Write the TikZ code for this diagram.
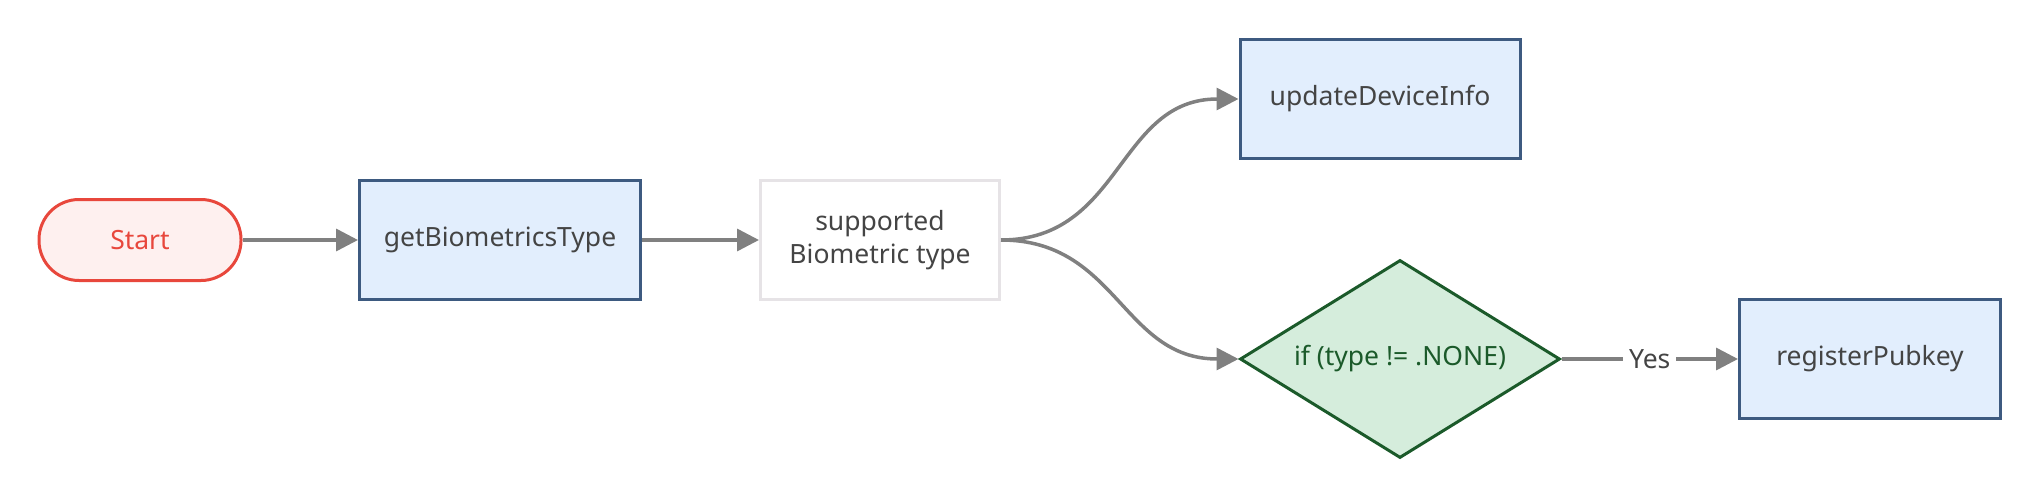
\documentclass[tikz,border=0pt]{standalone}
\usepackage{fontspec}
\setmainfont{Noto Sans}
\usetikzlibrary{arrows.meta,shapes.geometric}
\definecolor{arrgray}{HTML}{808080}
\definecolor{bluefill}{HTML}{E2EEFD}
\definecolor{bluedraw}{HTML}{3D5A80}
\definecolor{redfill}{HTML}{FEF0EF}
\definecolor{reddraw}{HTML}{E8473C}
\definecolor{greenfill}{HTML}{D5EDDC}
\definecolor{greendraw}{HTML}{1B5A2A}
\definecolor{graydraw}{HTML}{E6E3E6}
\definecolor{txt}{HTML}{444444}
\begin{document}
\begin{tikzpicture}[x=1pt,y=-1pt,
  every node/.style={font=\fontsize{26.5}{33}\selectfont, text=txt, align=center, inner sep=0pt},
  startbox/.style={draw=reddraw, fill=redfill, line width=3pt, rounded corners=40pt, minimum width=202pt, minimum height=81pt, text=reddraw},
  procbox/.style={draw=bluedraw, fill=bluefill, line width=3pt, minimum height=119pt},
  plainbox/.style={draw=graydraw, fill=white, line width=3pt, minimum width=239pt, minimum height=119pt},
  decbox/.style={diamond, draw=greendraw, fill=greenfill, line width=3pt, minimum width=320pt, minimum height=198pt, aspect=1.62, text=greendraw},
  arr/.style={draw=arrgray, line width=3.5pt, -{Triangle[length=22pt,width=22pt]}}
]
\useasboundingbox (0,0) rectangle (2040,500);
\node[startbox] (start) at (140,240) {Start};
\node[procbox, minimum width=281pt] (getb) at (500,240) {getBiometricsType};
\node[plainbox] (supp) at (880,240) {supported\\Biometric type};
\node[procbox, minimum width=280pt] (upd) at (1380,99) {updateDeviceInfo};
\node[decbox] (dia) at (1400,359) {if (type != .NONE)};
\node[procbox, minimum width=261pt] (reg) at (1870,359) {registerPubkey};
\draw[arr] (start) -- (getb);
\draw[arr] (getb) -- (supp);
\draw[arr] (supp.east) to[out=0,in=180,looseness=1.12] (upd.west);
\draw[arr] (supp.east) to[out=0,in=180,looseness=1.12] (dia.west);
\draw[arr] (dia.east) -- node[fill=white, inner xsep=6pt, inner ysep=4pt] (yes) {Yes} (reg.west);
\end{tikzpicture}
\end{document}
